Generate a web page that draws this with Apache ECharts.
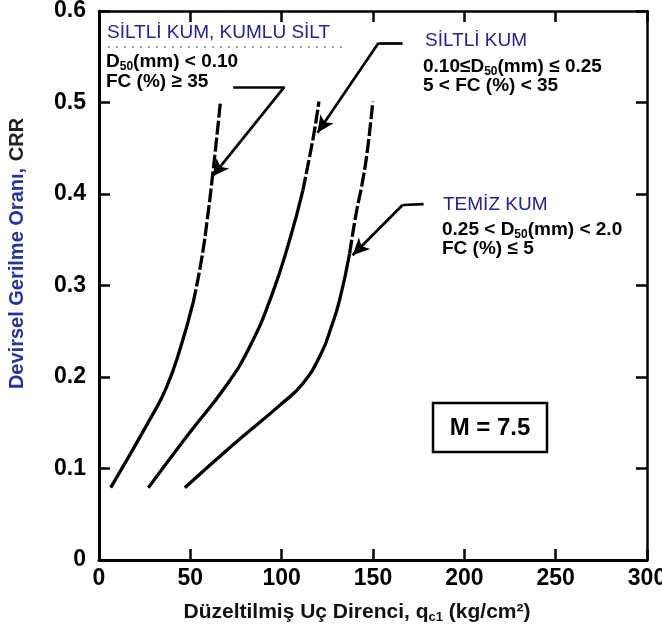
<!DOCTYPE html>
<html><head><meta charset="utf-8">
<script src="https://cdn.jsdelivr.net/npm/echarts@6/dist/echarts.min.js"></script>
<style>html,body{margin:0;padding:0;background:#fff}#c{width:662px;height:636px}</style>
</head><body><div id="c"></div>
<script>
// ---- data ----
const xTickValues = [0, 50, 100, 150, 200, 250, 300];
const yTickValues = [0, 0.1, 0.2, 0.3, 0.4, 0.5, 0.6];
// Silty sand / sandy silt, D50 < 0.10, FC >= 35
const siltySiltCurve = [[6.4,0.079],[28.8,0.157],[37.0,0.189],[44.3,0.230],[51.5,0.281],[56.1,0.328],[59.7,0.379],[62.1,0.419],[64.3,0.459],[66.5,0.501]];
const siltySiltDashFrom = 4;
// Silty sand, 0.10 <= D50 <= 0.25
const siltySandCurve = [[27.0,0.079],[48.0,0.135],[69.8,0.191],[82.5,0.233],[94.5,0.289],[104.4,0.350],[111.6,0.404],[115.3,0.441],[118.0,0.470],[120.4,0.501]];
const siltySandDashFrom = 6;
// Clean sand, 0.25 < D50 < 2.0
const cleanSandCurve = [[47.0,0.079],[73.4,0.126],[98.9,0.169],[111.6,0.193],[121.7,0.226],[127.2,0.255],[131.7,0.284],[137.2,0.335],[140.8,0.379],[144.4,0.415],[147.2,0.452],[149.9,0.501]];
const cleanSandDashFrom = 7;
// leader lines (data coords): [tail horizontal start, elbow, arrow tip]
const leader1 = [[73.5,0.517],[101.5,0.517],[62.0,0.419]];
const leader2 = [[166.2,0.565],[153.0,0.565],[119.6,0.467]];
const leader3 = [[177.7,0.389],[166.2,0.388],[138.8,0.333]];

const FONT = 'Liberation Sans, Arial, sans-serif';
const BLUE = '#24248a';

const chart = echarts.init(document.getElementById('c'), null, {renderer:'canvas'});

function curveSeries(data, dashFrom) {
  return [
    {type:'line', data:data.slice(0, dashFrom+1), smooth:0.5, symbol:'none', silent:true,
     lineStyle:{color:'#000', width:3.3}},
    {type:'line', data:data.slice(dashFrom), smooth:0.5, symbol:'none', silent:true,
     lineStyle:{color:'#000', width:3.3, type:[14,3]}}
  ];
}
function leaderMarks(l) {
  return [
    [{coord:l[0], symbol:'none'}, {coord:l[1], symbol:'none'}],
    [{coord:l[1], symbol:'none'}, {coord:l[2], symbol:'arrow'}]
  ];
}

const series = [].concat(
  curveSeries(siltySiltCurve, siltySiltDashFrom),
  curveSeries(siltySandCurve, siltySandDashFrom),
  curveSeries(cleanSandCurve, cleanSandDashFrom)
);
series[0].markLine = {
  silent:true, animation:false, symbolSize:[12,17], label:{show:false},
  lineStyle:{color:'#000', width:2.7, type:'solid'},
  emphasis:{disabled:true},
  data: [].concat(leaderMarks(leader1), leaderMarks(leader2), leaderMarks(leader3))
};

const sub = {fontSize:12, lineHeight:12, verticalAlign:'bottom', fontFamily:FONT, fontWeight:'bold', fill:'#000'};
const mainT = {fontSize:19, lineHeight:22, fontFamily:FONT, fontWeight:'bold', fill:'#000'};
function txt(x, y, text, opts) {
  return Object.assign({type:'text', x:x, y:y, silent:true,
    style:Object.assign({text:text, font:'bold 19px '+FONT, fill:'#000', verticalAlign:'middle', align:'left',
      rich:{n:mainT, s:sub}}, opts||{})});
}

const option = {
  animation:false,
  backgroundColor:'#fff',
  grid:{left:99, right:15, top:11, bottom:76, outerBoundsMode:'none', containLabel:false},
  xAxis:[{
    type:'value', min:0, max:300, interval:50, position:'bottom',
    axisLine:{show:true, onZero:false, lineStyle:{color:'#000', width:3}},
    axisTick:{show:true, inside:true, length:11, lineStyle:{color:'#000', width:2.5}},
    splitLine:{show:false},
    axisLabel:{color:'#000', fontSize:23, fontWeight:'bold', fontFamily:FONT, margin:7,
      customValues:xTickValues},
    name:'Düzeltilmiş Uç Direnci, {q|q}{s|c1}{q| (kg/cm²)}', nameLocation:'middle', nameGap:40,
    nameTextStyle:{color:'#111', fontSize:21, fontWeight:'bold', fontFamily:FONT, padding:[0,32,0,0],
      rich:{q:{fontSize:21, lineHeight:24, fontWeight:'bold', fontFamily:FONT, color:'#111'},
            s:{fontSize:13, lineHeight:12, verticalAlign:'bottom', fontWeight:'bold', fontFamily:FONT, color:'#111'}}}
  },{
    type:'value', min:0, max:300, interval:50, position:'top',
    axisLine:{show:true, onZero:false, lineStyle:{color:'#000', width:2.5}},
    axisTick:{show:true, inside:true, length:11, lineStyle:{color:'#000', width:2.5}},
    axisLabel:{show:false}, splitLine:{show:false}
  }],
  yAxis:[{
    type:'value', min:0, max:0.6, interval:0.1, position:'left',
    axisLine:{show:true, onZero:false, lineStyle:{color:'#000', width:3}},
    axisTick:{show:true, inside:true, length:11, lineStyle:{color:'#000', width:2.5}},
    splitLine:{show:false},
    axisLabel:{color:'#000', fontSize:23, fontWeight:'bold', fontFamily:FONT, margin:13,
      customValues:yTickValues},
    name:'{b|Devirsel Gerilme Oranı,}  {k|CRR}', nameLocation:'middle', nameGap:72,
    nameTextStyle:{padding:[0,0,0,64],
      rich:{b:{fontSize:20, fontWeight:'bold', fontFamily:FONT, color:'#27349a'},
            k:{fontSize:20, fontWeight:'bold', fontFamily:FONT, color:'#222'}}}
  },{
    type:'value', min:0, max:0.6, interval:0.1, position:'right',
    axisLine:{show:true, onZero:false, lineStyle:{color:'#000', width:2.5}},
    axisTick:{show:true, inside:true, length:11, lineStyle:{color:'#000', width:2.5}},
    axisLabel:{show:false}, splitLine:{show:false}
  }],
  series: series,
  graphic: [
    {type:'line', silent:true, shape:{x1:108, y1:47, x2:347, y2:47}, style:{stroke:'#888', lineWidth:1.5, lineDash:[2,6]}},
    txt(107, 33, 'SİLTLİ KUM, KUMLU SİLT', {font:'19px '+FONT, fill:BLUE}),
    txt(106, 62, '{n|D}{s|50}{n|(mm) < 0.10}'),
    txt(106, 82, 'FC (%) ≥ 35'),
    txt(425, 41, 'SİLTLİ KUM', {font:'19px '+FONT, fill:BLUE}),
    txt(423, 67, '{n|0.10≤D}{s|50}{n|(mm) ≤ 0.25}'),
    txt(423, 86, '5 < FC (%) < 35'),
    txt(443, 205, 'TEMİZ KUM', {font:'19px '+FONT, fill:BLUE}),
    txt(442, 230, '{n|0.25 < D}{s|50}{n|(mm) < 2.0}'),
    txt(442, 249, 'FC (%) ≤ 5'),
    {type:'rect', silent:true, shape:{x:433, y:403, width:114, height:49}, style:{fill:'#fff', stroke:'#000', lineWidth:2.5}},
    {type:'text', silent:true, x:490, y:428, style:{text:'M = 7.5', font:'bold 24px '+FONT, fill:'#000', align:'center', verticalAlign:'middle'}}
  ]
};
chart.setOption(option);
</script>
</body></html>
